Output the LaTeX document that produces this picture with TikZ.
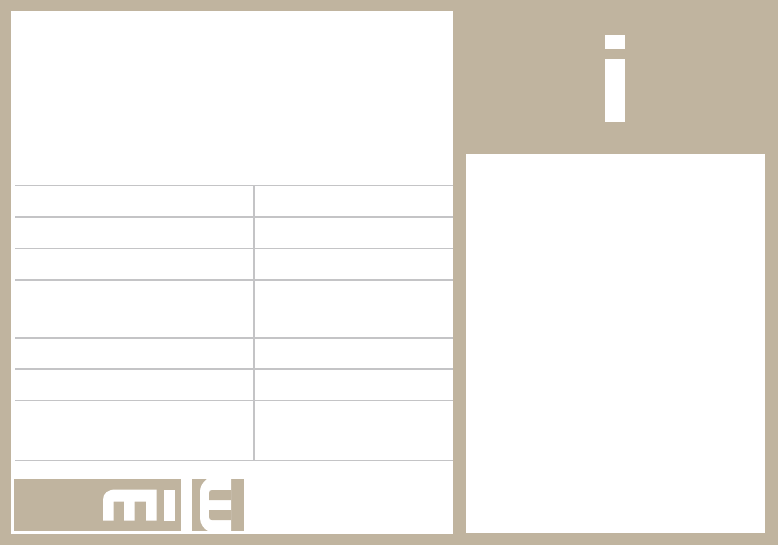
\documentclass[tikz,border=0pt]{standalone}
\usepackage{tikz}
\definecolor{sandtan}{HTML}{C0B49F}
\definecolor{rulegrey}{HTML}{C4C4C6}
\tikzset{panel/.style={fill=white,draw=none},
  tablerule/.style={draw=rulegrey,line width=1.6pt},
  logoblock/.style={fill=sandtan,draw=none},
  logoglyph/.style={fill=white,draw=none}}
\begin{document}
\begin{tikzpicture}[x=1pt,y=-1pt]
  \fill[sandtan] (0,0) rectangle (778,545);
  \useasboundingbox (0,0) rectangle (778,545);

  % panels
  \fill[panel] (10.5,11) rectangle (453,534);
  \fill[panel] (466,154) rectangle (765,533);

  % info sign
  \fill[logoglyph] (605,35) rectangle (625,49);
  \fill[logoglyph] (605,59) rectangle (625,122);

  % table
  \foreach \ypos in {185.5,217,248.5,279.7,337.7,369,400.3,460.3}
    \draw[tablerule] (15,\ypos) -- (453,\ypos);
  \draw[tablerule] (254,185.5) -- (254,460.3);

  % logo
  \fill[logoblock] (14,479) rectangle (181,531);
  \fill[logoblock] (191.5,479) rectangle (244,531);
  \fill[logoglyph] (103,520.5) -- (103,500) .. controls (103,493) and (108,489.5) .. (116,489.5)
    -- (156.5,489.5) -- (156.5,520.5) -- (146,520.5) -- (146,501.5) -- (134.5,501.5) -- (134.5,520.5)
    -- (124,520.5) -- (124,501.5) -- (113.5,501.5) -- (113.5,520.5) -- cycle;
  \fill[logoglyph] (163.5,489.5) rectangle (175,520.5);
  \fill[logoglyph] (231,479) -- (207,479) .. controls (202,483) and (200,487) .. (200,492)
    -- (200,518) .. controls (200,524) and (204,529) .. (208,531) -- (231,531) -- cycle;
  \fill[logoblock] (231,490) -- (212,490) .. controls (210,490) and (209,491) .. (209,493)
    -- (209,500) -- (231,500) -- cycle;
  \fill[logoblock] (231,510) -- (209,510) -- (209,517) .. controls (209,519) and (210,520) .. (212,520)
    -- (231,520) -- cycle;
\end{tikzpicture}
\end{document}
